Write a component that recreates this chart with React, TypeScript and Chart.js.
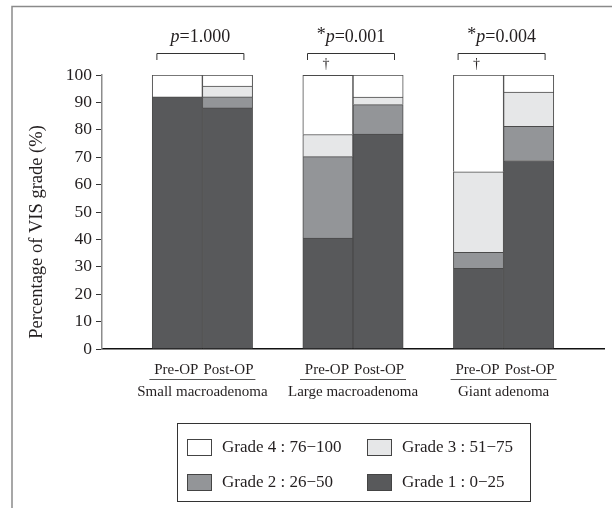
import React, { useEffect, useRef } from "react";
import { Chart, registerables } from "chart.js";

Chart.register(...registerables);

const groups = ["Small macroadenoma", "Large macroadenoma", "Giant adenoma"];
const phases = ["Pre-OP", "Post-OP"];
const pValues = ["=1.000", "=0.001", "=0.004"];
const pStar = [false, true, true];
const dagger = [false, true, true];

const gradeLabels = ["Grade 1 : 0\u221225", "Grade 2 : 26\u221250", "Grade 3 : 51\u221275", "Grade 4 : 76\u2212100"];
const gradeColors = ["#58595b", "#939598", "#e6e7e8", "#ffffff"];

const grade1Pre = [92, 40.5, 29.4];
const grade1Post = [88, 78.4, 68.8];
const grade2Pre = [0, 29.7, 5.9];
const grade2Post = [4, 10.8, 12.5];
const grade3Pre = [0, 8.1, 29.4];
const grade3Post = [4, 2.7, 12.5];
const grade4Pre = [8, 21.6, 35.3];
const grade4Post = [4, 8.1, 6.2];

const yTicks = [0, 10, 20, 30, 40, 50, 60, 70, 80, 90, 100];

const FONT = '"Liberation Serif", "Times New Roman", serif';
const TEXT = "#231f20";

// slot layout: gap, Pre, Post, gap, Pre, Post, gap, Pre, Post, gap
const slotLabels: string[] = [""];
groups.forEach(() => {
  slotLabels.push(phases[0], phases[1], "");
});

function toSlots(pre: number[], post: number[]) {
  const out: (number | null)[] = [null];
  pre.forEach((v, i) => {
    out.push(v === 0 ? null : v, post[i] === 0 ? null : post[i], null);
  });
  return out;
}

const gradeData = [
  toSlots(grade1Pre, grade1Post),
  toSlots(grade2Pre, grade2Post),
  toSlots(grade3Pre, grade3Post),
  toSlots(grade4Pre, grade4Post),
];

const overlay = {
  id: "overlay",
  afterDraw(chart: any) {
    const ctx = chart.ctx as CanvasRenderingContext2D;
    const xs = chart.scales.x;
    ctx.save();
    // frame
    ctx.strokeStyle = "#8a8a8a";
    ctx.lineWidth = 1.5;
    ctx.beginPath();
    ctx.moveTo(12, 508);
    ctx.lineTo(12, 6.5);
    ctx.lineTo(612, 6.5);
    ctx.stroke();

    ctx.fillStyle = TEXT;
    ctx.textBaseline = "middle";
    groups.forEach((g, i) => {
      const xPre = xs.getPixelForValue(1 + i * 3);
      const xPost = xs.getPixelForValue(2 + i * 3);
      const c = (xPre + xPost) / 2;
      ctx.font = `15px ${FONT}`;
      ctx.textAlign = "center";
      ctx.fillText(phases[0], xPre - 1, 370);
      ctx.fillText(phases[1], xPost + 1, 370);
      ctx.fillText(g, c, 392);
      ctx.strokeStyle = "#555";
      ctx.lineWidth = 1;
      ctx.beginPath();
      ctx.moveTo(c - 53, 379.5);
      ctx.lineTo(c + 53, 379.5);
      ctx.stroke();

      // p value
      const star = pStar[i] ? "*" : "";
      ctx.font = `18px ${FONT}`;
      const wStar = ctx.measureText(star).width;
      const wRest = ctx.measureText(pValues[i]).width;
      ctx.font = `italic 18px ${FONT}`;
      const wP = ctx.measureText("p").width;
      const total = wStar + wP + wRest;
      let x0 = c - 2 - total / 2;
      ctx.textAlign = "left";
      ctx.font = `18px ${FONT}`;
      if (star) ctx.fillText(star, x0, 35);
      x0 += wStar;
      ctx.font = `italic 18px ${FONT}`;
      ctx.fillText("p", x0, 37);
      x0 += wP;
      ctx.font = `18px ${FONT}`;
      ctx.fillText(pValues[i], x0, 37);

      // bracket
      ctx.strokeStyle = "#333";
      ctx.lineWidth = 1;
      ctx.beginPath();
      ctx.moveTo(c - 45.5, 60);
      ctx.lineTo(c - 45.5, 53.5);
      ctx.lineTo(c + 41.5, 53.5);
      ctx.lineTo(c + 41.5, 60);
      ctx.stroke();

      if (dagger[i]) {
        ctx.font = `14px ${FONT}`;
        ctx.textAlign = "center";
        ctx.fillText("\u2020", xPre - 2, 64);
      }
    });

    // y title
    ctx.save();
    ctx.translate(37, 232);
    ctx.rotate(-Math.PI / 2);
    ctx.font = `18.5px ${FONT}`;
    ctx.textAlign = "center";
    ctx.fillText("Percentage of VIS grade (%)", 0, 0);
    ctx.restore();

    // legend
    ctx.strokeStyle = "#333";
    ctx.lineWidth = 1;
    ctx.strokeRect(177.5, 423.5, 353, 78);
    const order = [3, 2, 1, 0];
    const pos = [
      [187, 439],
      [367, 439],
      [187, 474],
      [367, 474],
    ];
    order.forEach((gi, k) => {
      const [sx, sy] = pos[k];
      ctx.fillStyle = gradeColors[gi];
      ctx.fillRect(sx + 0.5, sy + 0.5, 24, 16);
      ctx.strokeStyle = "#444";
      ctx.strokeRect(sx + 0.5, sy + 0.5, 24, 16);
      ctx.fillStyle = TEXT;
      ctx.font = `17px ${FONT}`;
      ctx.textAlign = "left";
      ctx.fillText(chart.data.datasets[gi].label, sx + 35, sy + 9);
    });
    ctx.restore();
  },
};

export default function App() {
  const ref = useRef<HTMLCanvasElement>(null);
  useEffect(() => {
    if (!ref.current) return;
    const chart = new Chart(ref.current, {
      type: "bar",
      data: {
        labels: slotLabels,
        datasets: gradeData.map((d, i) => ({
          label: gradeLabels[i],
          data: d,
          backgroundColor: gradeColors[i],
          borderColor: "#4a4a4a",
          borderWidth: 1,
          barPercentage: 1,
          categoryPercentage: 1,
        })),
      },
      options: {
        responsive: false,
        animation: false,
        layout: { padding: { left: 0, right: 8, top: 75, bottom: 0 } },
        plugins: { legend: { display: false }, tooltip: { enabled: false }, title: { display: false } },
        scales: {
          x: {
            stacked: true,
            grid: { display: false },
            ticks: { display: false },
            border: { color: "#111", width: 1.5 },
            afterFit(scale: any) {
              scale.height = 508 - 349;
            },
          },
          y: {
            stacked: true,
            min: 0,
            max: 100,
            afterBuildTicks(scale: any) {
              scale.ticks = yTicks.map((v) => ({ value: v }));
            },
            grid: { drawOnChartArea: false, drawTicks: true, tickLength: 6, color: "#333" },
            border: { color: "#8c8c8c", width: 1.5 },
            ticks: { padding: 4, color: TEXT, font: { family: FONT, size: 17.5 } },
            afterFit(scale: any) {
              scale.width = 102;
            },
          },
        },
      },
      plugins: [overlay],
    });
    return () => chart.destroy();
  }, []);
  return (
    <div style={{ position: "absolute", left: 0, top: 0, width: 612, height: 508, background: "#fff" }}>
      <canvas ref={ref} width={612} height={508} style={{ display: "block", width: 612, height: 508 }} />
    </div>
  );
}
